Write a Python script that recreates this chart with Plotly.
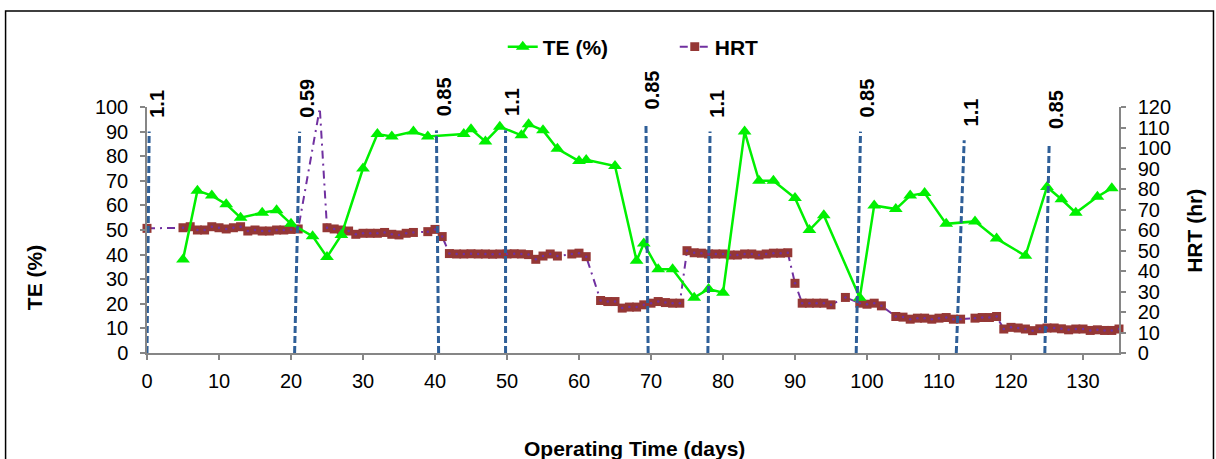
import plotly.graph_objects as go

# ---------------- data ----------------
te_days = [5, 7, 9, 11, 13, 16, 18, 20, 23, 25, 27, 30, 32, 34, 37, 39, 44, 45, 47, 49,
           52, 53, 55, 57, 60, 61, 65, 68, 69, 71, 73, 76, 78, 80, 83, 85, 87, 90, 92, 94,
           99, 101, 104, 106, 108, 111, 115, 118, 122, 125, 127, 129, 132, 134]
te_values = [38, 66, 64, 60.5, 55, 57, 58, 52.5, 47.5, 39, 48, 75, 89, 88, 90, 88, 89, 91, 86, 92,
             88.5, 93, 90.5, 83, 78, 78.5, 76, 37.5, 44.5, 34, 34, 22.5, 26, 24.5, 90, 70, 70, 63, 50, 56,
             22.5, 60, 58.5, 64, 65, 52.5, 53.5, 46.5, 39.5, 67.5, 62.5, 57, 63.5, 67]

hrt_days = [0,
            5, 6, 7, 8, 9, 10, 11, 12, 13, 14, 15, 16, 17, 18, 19, 20, 21,
            24,
            25, 26, 27, 28, 29, 30, 31, 32, 33, 34, 35, 36, 37, 39, 40, 41,
            42, 43, 44, 45, 46, 47, 48, 49, 50, 51, 52, 53, 54, 55, 56, 57, 59, 60, 61,
            63, 64, 65, 66, 67, 68, 69, 70, 71, 72, 73, 74,
            75, 76, 77, 78, 79, 80, 81, 82, 83, 84, 85, 86, 87, 88, 89,
            90,
            91, 92, 93, 94, 95, 97, 99, 100, 101, 102,
            104, 105, 106, 107, 108, 109, 110, 111, 112, 113, 115, 116, 117, 118,
            119, 120, 121, 122, 123, 124, 125, 126, 127, 128, 129, 130, 131, 132, 133, 134, 135]
hrt_values = [60.8,
              61.1, 61.6, 60.0, 60.0, 61.6, 61.1, 60.5, 61.1, 61.6, 59.5, 60.0, 59.5, 59.5, 60.0, 60.0, 60.3, 60.5,
              119.5,
              61.1, 60.5, 60.0, 59.5, 57.9, 58.4, 58.4, 58.4, 58.8, 57.9, 57.6, 58.4, 58.8, 59.2, 60.3, 56.8,
              48.5, 48.3, 48.3, 48.4, 48.3, 48.3, 48.2, 48.3, 48.3, 48.4, 48.3, 48.0, 45.7, 47.3, 48.3, 47.3, 48.3, 48.7, 47.0,
              25.6, 25.1, 25.1, 21.9, 22.4, 22.4, 23.5, 24.3, 25.1, 24.6, 24.3, 24.3,
              49.9, 48.9, 48.7, 48.3, 48.3, 48.3, 47.8, 47.8, 48.3, 48.3, 47.8, 48.3, 48.7, 48.7, 48.9,
              34.0,
              24.3, 24.3, 24.3, 24.3, 23.5, 27.1, 24.3, 23.8, 24.3, 23.0,
              17.8, 17.5, 16.5, 17.0, 17.0, 16.5, 17.0, 17.3, 16.5, 16.5, 17.0, 17.3, 17.3, 17.8,
              11.7, 12.5, 12.2, 11.7, 10.9, 11.8, 12.2, 12.2, 11.8, 11.3, 11.7, 11.7, 11.0, 11.3, 11.0, 11.0, 11.7]
hrt_unmarked_days = [24]

phase_x_bottom = [0.0, 20.5, 40.5, 49.8, 69.6, 77.9, 98.5, 112.4, 124.7]
phase_x_top = [0.3, 21.2, 40.2, 49.8, 69.3, 78.2, 99.1, 113.5, 125.3]
phase_te_top = [90, 90, 90.5, 90.5, 93.5, 90, 90, 86.5, 85.2]
phase_labels = ["1.1", "0.59", "0.85", "1.1", "0.85", "1.1", "0.85", "1.1", "0.85"]

x_ticks = list(range(0, 131, 10))
te_ticks = list(range(0, 101, 10))
hrt_ticks = list(range(0, 121, 10))

# ---------------- style ----------------
FONT = "Liberation Sans, Arial, sans-serif"
GREEN = "#00F000"
BROWN = "#953735"
PURPLE = "#7030A0"
PHASE = "#2F5F98"
AXIS = "#868686"

sq_size = [0 if d in hrt_unmarked_days else 9 for d in hrt_days]
dot_size = [0 if d in hrt_unmarked_days else 2.5 for d in hrt_days]

fig = go.Figure()

# HRT on primary y (drawn beneath), axis shown on the right
fig.add_trace(go.Scatter(
    x=hrt_days, y=hrt_values, name="HRT", yaxis="y", legendrank=2,
    mode="lines+markers", cliponaxis=False,
    line=dict(color=PURPLE, width=2, dash="8px,5px,2px,5px"),
    marker=dict(symbol="square", size=sq_size, color=BROWN, opacity=1, line=dict(width=0)),
))
fig.add_trace(go.Scatter(
    x=hrt_days, y=hrt_values, yaxis="y", showlegend=False, hoverinfo="skip",
    mode="markers", cliponaxis=False,
    marker=dict(symbol="circle", size=dot_size, color=PURPLE, opacity=1, line=dict(width=0)),
))

# TE on overlaying axis (drawn above), axis shown on the left
fig.add_trace(go.Scatter(
    x=te_days, y=te_values, name="TE (%)", yaxis="y2", legendrank=1,
    mode="lines+markers",
    line=dict(color=GREEN, width=2.5),
    marker=dict(symbol="triangle-up", size=12, color=GREEN, opacity=1, line=dict(width=0)),
))

annotations = []
for xb, xt, yt, lab in zip(phase_x_bottom, phase_x_top, phase_te_top, phase_labels):
    fig.add_trace(go.Scatter(
        x=[xb, xt], y=[0, yt], yaxis="y2", mode="lines", showlegend=False,
        hoverinfo="skip", cliponaxis=False,
        line=dict(color=PHASE, width=3, dash="7px,3px"),
    ))
    annotations.append(dict(
        x=xt, y=yt, xref="x", yref="y2", text=lab, showarrow=False,
        textangle=-90, xanchor="center", yanchor="bottom", xshift=7, yshift=12,
        font=dict(family=FONT, size=20, color="black", weight="bold"),
    ))

title_font = dict(family=FONT, size=21, color="black", weight="bold")
annotations += [
    dict(text="TE (%)", x=-0.115, y=0.305, xref="paper", yref="paper", showarrow=False,
         textangle=-90, xanchor="center", yanchor="middle", font=title_font),
    dict(text="HRT (hr)", x=1.078, y=0.496, xref="paper", yref="paper", showarrow=False,
         textangle=-90, xanchor="center", yanchor="middle", font=title_font),
    dict(text="Operating Time (days)", x=0.502, y=-0.39, xref="paper", yref="paper",
         showarrow=False, xanchor="center", yanchor="middle", font=title_font),
]

tick_font = dict(family=FONT, size=20, color="black")
axis_common = dict(
    showgrid=False, zeroline=False, showline=True, linecolor=AXIS, linewidth=1.5,
    ticks="outside", ticklen=5, tickwidth=1.5, tickcolor=AXIS, tickfont=tick_font,
)

fig.update_layout(
    width=1216, height=459,
    margin=dict(l=147, r=97, t=107, b=106),
    paper_bgcolor="white", plot_bgcolor="white",
    font=dict(family=FONT, color="black"),
    xaxis=dict(range=[0, 135], tickmode="array", tickvals=x_ticks, anchor="y",
               ticklabelstandoff=4, **axis_common),
    yaxis=dict(range=[0, 120], tickmode="array", tickvals=hrt_ticks, side="right",
               ticklabelstandoff=8, **axis_common),
    yaxis2=dict(range=[0, 100], tickmode="array", tickvals=te_ticks, side="left",
                overlaying="y", anchor="x", ticklabelstandoff=8, **axis_common),
    legend=dict(orientation="h", x=0.366, xanchor="left", y=1.244, yanchor="middle",
                entrywidth=127, entrywidthmode="pixels",
                font=dict(family=FONT, size=21, color="black", weight="bold"),
                bgcolor="rgba(0,0,0,0)", traceorder="normal"),
    annotations=annotations,
    shapes=[dict(type="rect", xref="paper", yref="paper",
                 x0=-0.1455, x1=1.0972, y0=-0.6, y1=1.39,
                 line=dict(color="black", width=1.5), fillcolor="rgba(0,0,0,0)")],
    showlegend=True,
)

fig.write_html("out.html", config={"displayModeBar": False},
               post_script="document.body.style.margin='0px';")
